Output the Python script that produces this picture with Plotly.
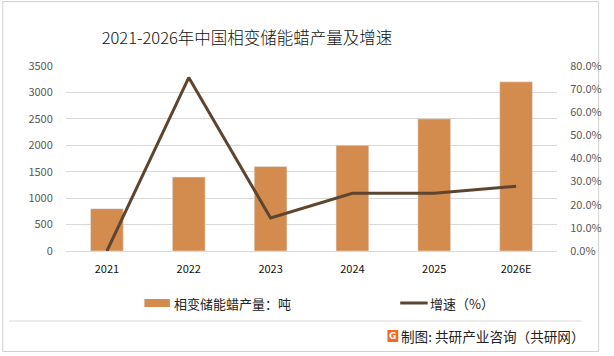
import plotly.graph_objects as go

years = ["2021", "2022", "2023", "2024", "2025", "2026E"]
output_tons = [800, 1400, 1600, 2000, 2500, 3200]
growth_pct = [0.0, 75.0, 14.3, 25.0, 25.0, 28.0]
bar_name = "相变储能蜡产量：吨"
line_name = "增速（%）"
title_text = "2021-2026年中国相变储能蜡产量及增速"
footer_text = "制图: 共研产业咨询（共研网）"

W, H = 614, 356
FONT = "Noto Sans CJK SC, Noto Sans, sans-serif"
BAR_C = "#D38B4E"
LINE_C = "#5E4530"

fig = go.Figure()
fig.add_trace(go.Bar(x=years, y=output_tons, name=bar_name, marker_color=BAR_C,
                     width=0.4, yaxis="y"))
fig.add_trace(go.Scatter(x=years, y=[g / 100 for g in growth_pct], name=line_name,
                         mode="lines", line=dict(color=LINE_C, width=3), yaxis="y2"))

L, R, T, B = 66, 47, 66, 105
fig.update_layout(
    width=W, height=H,
    margin=dict(l=L, r=R, t=T, b=B),
    paper_bgcolor="white", plot_bgcolor="white",
    showlegend=False,
    font=dict(family=FONT, size=11, color="#595959"),
    title=dict(text=title_text, x=247 / W, xanchor="center", xref="container",
               y=1 - 38 / H, yanchor="middle",
               font=dict(size=16.5, color="#111111", family=FONT, weight=300)),
    xaxis=dict(showgrid=False, showline=True, linecolor="#D9D9D9", linewidth=1,
               tickfont=dict(color="#111111", size=11), ticks="outside", ticklen=8,
               tickcolor="rgba(0,0,0,0)", fixedrange=True),
    yaxis=dict(range=[0, 3500], dtick=500, showgrid=True, gridcolor="#D9D9D9", gridwidth=1,
               zeroline=False, showline=False, ticks="outside", ticklen=10,
               tickcolor="rgba(0,0,0,0)", tickfont=dict(size=11, color="#595959")),
    yaxis2=dict(range=[0, 0.8], dtick=0.1, tickformat=".1%", overlaying="y", side="right",
                showgrid=False, zeroline=False, showline=False, ticks="outside", ticklen=10,
                tickcolor="rgba(0,0,0,0)", tickfont=dict(size=11, color="#595959")),
    bargap=0.6,
)


def px(x):
    return (x - L) / (W - L - R)


def py(y):
    return (H - B - y) / (H - T - B)


shapes = []
annotations = []
# outer border
shapes.append(dict(type="rect", xref="paper", yref="paper",
                   x0=px(1.5), x1=px(609.5), y0=py(351.5), y1=py(1.5),
                   line=dict(color="#D0D0D0", width=1), layer="below"))
# legend
shapes.append(dict(type="rect", xref="paper", yref="paper", x0=px(146), x1=px(172),
                   y0=py(307), y1=py(299), fillcolor=BAR_C, line=dict(width=0)))
annotations.append(dict(text=bar_name, xref="paper", yref="paper", x=px(174), y=py(303),
                        xanchor="left", yanchor="middle", showarrow=False,
                        font=dict(size=13, color="#222222", family=FONT)))
shapes.append(dict(type="line", xref="paper", yref="paper", x0=px(407), x1=px(435),
                   y0=py(303), y1=py(303), line=dict(color=LINE_C, width=3)))
annotations.append(dict(text=line_name, xref="paper", yref="paper", x=px(435), y=py(303),
                        xanchor="left", yanchor="middle", showarrow=False,
                        font=dict(size=13, color="#222222", family=FONT)))
# separator
shapes.append(dict(type="line", xref="paper", yref="paper", x0=px(8), x1=px(592),
                   y0=py(321), y1=py(321), line=dict(color="#D9D9D9", width=1)))
# footer logo
shapes.append(dict(type="rect", xref="paper", yref="paper", x0=px(394), x1=px(405),
                   y0=py(342), y1=py(330), fillcolor="#F26B21", line=dict(width=0)))
annotations.append(dict(text="<b>G</b>", xref="paper", yref="paper", x=px(399.5), y=py(336),
                        xanchor="center", yanchor="middle", showarrow=False,
                        font=dict(size=9, color="white", family="DejaVu Sans")))
annotations.append(dict(text=footer_text, xref="paper", yref="paper", x=px(406), y=py(336),
                        xanchor="left", yanchor="middle", showarrow=False,
                        font=dict(size=13.6, color="#222222", family=FONT)))

fig.update_layout(shapes=shapes, annotations=annotations)
fig.write_html("out.html", config={"displayModeBar": False},
               post_script="document.body.style.margin='0';document.body.style.overflow='hidden';")
